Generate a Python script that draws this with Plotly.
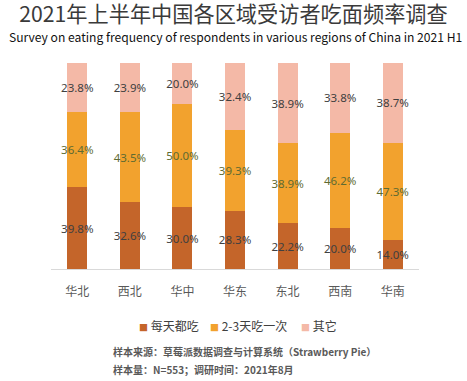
import plotly.graph_objects as go

regions = ["华北", "西北", "华中", "华东", "东北", "西南", "华南"]
daily = [39.8, 32.6, 30.0, 28.3, 22.2, 20.0, 14.0]
every_2_3 = [36.4, 43.5, 50.0, 39.3, 38.9, 46.2, 47.3]
other = [23.8, 23.9, 20.0, 32.4, 38.9, 33.8, 38.7]
series_names = ["每天都吃", "2-3天吃一次", "其它"]
colors = ["#C4652A", "#F2A22E", "#F4B9A7"]
label_colors = ["#404040", "#5E6B32", "#404040"]

CJK = "Noto Sans CJK SC"
L, R, T, B = 51, 48, 63, 112
PW, PH = 467 - L - R, 381 - T - B


def px_x(x):
    return (x - L) / PW


def px_y(y):
    return (381 - B - y) / PH


fig = go.Figure()
for name, vals, c, lc in zip(series_names, [daily, every_2_3, other], colors, label_colors):
    fig.add_trace(go.Bar(
        x=regions, y=vals, name=name,
        marker=dict(color=c, line=dict(width=0)),
        width=0.38,
        text=[f"{v:.1f}%" for v in vals],
        textposition="inside", insidetextanchor="middle", textangle=0,
        constraintext="none",
        textfont=dict(family="Noto Sans", size=11.5, color=lc),
        hoverinfo="skip",
        showlegend=False,
    ))

legend_x = [139, 210, 301]
annotations = [
    dict(text="Survey on eating frequency of respondents in various regions of China in 2021 H1",
         xref="paper", yref="paper", x=px_x(235), y=px_y(36),
         xanchor="center", yanchor="middle", showarrow=False,
         font=dict(family=CJK, size=12.1, color="#111111")),
    dict(text="<b>样本来源：草莓派数据调查与计算系统（Strawberry Pie）</b>",
         xref="paper", yref="paper", x=px_x(111), y=px_y(351),
         xanchor="left", yanchor="middle", showarrow=False,
         font=dict(family=CJK, size=10, color="#595959")),
    dict(text="<b>样本量：N=553；调研时间：2021年8月</b>",
         xref="paper", yref="paper", x=px_x(111), y=px_y(369),
         xanchor="left", yanchor="middle", showarrow=False,
         font=dict(family=CJK, size=10, color="#595959")),
]
for name, c, lx in zip(series_names, colors, legend_x):
    annotations.append(dict(
        text=f"<span style='color:{c};font-size:9px'>■</span> {name}",
        xref="paper", yref="paper", x=px_x(lx - 2), y=px_y(325),
        xanchor="left", yanchor="middle", showarrow=False,
        font=dict(family=CJK, size=12, color="#404040")))

fig.update_layout(
    barmode="stack",
    width=467, height=381,
    margin=dict(l=L, r=R, t=T, b=B, autoexpand=False),
    paper_bgcolor="white", plot_bgcolor="white",
    showlegend=False,
    xaxis=dict(showline=True, linecolor="#D9D9D9", linewidth=1, ticks="",
               ticklabelstandoff=12,
               tickfont=dict(family=CJK, size=12, color="#595959"), fixedrange=True),
    yaxis=dict(range=[0, 100], visible=False, showgrid=False),
    title=dict(text="2021年上半年中国各区域受访者吃面频率调查", x=0.5, xref="container",
               xanchor="center", y=1 - 14.5 / 381, yref="container", yanchor="middle",
               font=dict(family=CJK, size=21.2, color="#3A3A3A")),
    annotations=annotations,
)

fig.write_html("out.html", config={"displayModeBar": False},
               post_script="document.body.style.margin='0px';")
